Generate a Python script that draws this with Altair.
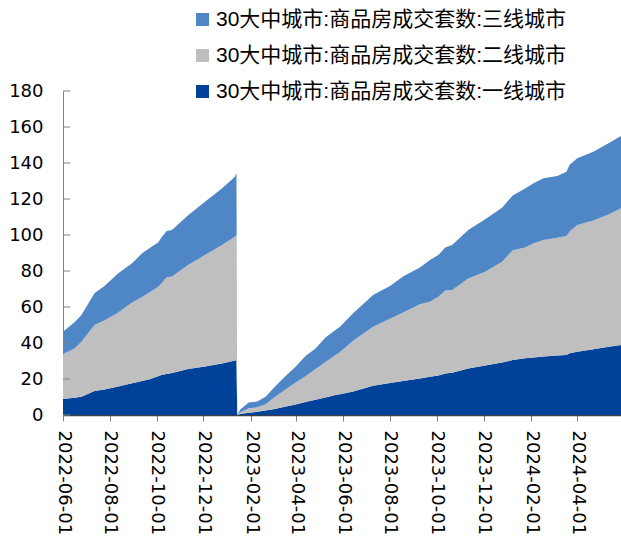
import altair as alt
import pandas as pd

# Cumulative transaction counts (10k units) for the 30 large/medium cities,
# split by city tier. Two cumulative runs: mid-2022 and 2023 onward.
DATES = [
    "2022-06-01", "2022-06-16", "2022-06-25", "2022-07-12", "2022-07-25",
    "2022-08-12", "2022-08-30", "2022-09-12", "2022-09-23", "2022-10-03",
    "2022-10-08", "2022-10-14", "2022-10-21", "2022-11-11", "2022-12-03",
    "2022-12-25", "2023-01-11", "2023-01-13",
    "2023-01-14", "2023-01-18", "2023-01-29", "2023-02-09", "2023-02-20",
    "2023-03-04", "2023-03-17", "2023-03-31", "2023-04-13", "2023-04-26",
    "2023-05-09", "2023-05-22", "2023-05-28", "2023-06-14", "2023-07-10",
    "2023-08-01", "2023-08-18", "2023-09-09", "2023-09-22", "2023-10-03",
    "2023-10-12", "2023-10-21", "2023-11-11", "2023-12-03", "2023-12-25",
    "2024-01-08", "2024-01-24", "2024-02-04", "2024-02-17", "2024-03-06",
    "2024-03-18", "2024-03-22", "2024-04-01", "2024-04-22", "2024-05-10",
    "2024-05-28",
]

TIER1 = [
    8.9, 9.6, 10.2, 13.3, 14.2, 15.8, 17.6, 18.9, 20.0, 21.5,
    22.3, 22.8, 23.3, 25.5, 27.0, 28.6, 30.3, 30.6,
    0.0, 0.5, 1.3, 1.8, 2.5, 3.4, 4.6, 5.9, 7.2, 8.5,
    9.7, 11.1, 11.5, 13.0, 16.3, 17.8, 18.9, 20.3, 21.3, 22.0,
    23.1, 23.5, 25.9, 27.5, 29.2, 30.5, 31.5, 32.0, 32.5, 33.0,
    33.3, 34.3, 35.2, 36.5, 37.8, 38.9,
]

TIER2 = [
    25.0, 27.4, 30.5, 36.7, 38.3, 41.2, 44.9, 46.6, 48.5, 49.8,
    51.2, 53.7, 53.7, 57.8, 61.9, 65.8, 68.7, 69.4,
    0.0, 1.0, 2.4, 2.5, 3.5, 6.6, 9.3, 12.1, 14.3, 17.0,
    19.8, 22.2, 23.5, 28.3, 32.7, 35.7, 38.1, 41.2, 41.6, 43.7,
    46.0, 46.0, 50.0, 52.1, 56.0, 61.0, 61.6, 63.4, 64.7, 65.5,
    66.2, 67.7, 70.4, 71.5, 73.3, 75.9,
]

TIER3 = [
    12.4, 14.5, 14.8, 17.6, 19.1, 21.7, 21.8, 24.3, 24.5, 24.6,
    25.5, 25.7, 25.8, 27.7, 29.6, 31.5, 33.4, 34.5,
    0.0, 1.5, 3.2, 3.2, 4.2, 5.7, 7.4, 8.8, 11.3, 11.5,
    13.6, 13.9, 14.0, 15.2, 17.7, 18.2, 19.9, 20.5, 23.2, 23.2,
    24.0, 24.9, 26.9, 29.1, 30.0, 30.5, 32.8, 33.3, 34.3, 34.3,
    35.7, 37.0, 37.0, 38.3, 39.5, 40.2,
]

SERIES = [
    "30大中城市:商品房成交套数:三线城市",
    "30大中城市:商品房成交套数:二线城市",
    "30大中城市:商品房成交套数:一线城市",
]
COLORS = ["#4F86C6", "#BFBFBF", "#00419A"]

X_TICKS = [
    "2022-06-01", "2022-08-01", "2022-10-01", "2022-12-01",
    "2023-02-01", "2023-04-01", "2023-06-01", "2023-08-01",
    "2023-10-01", "2023-12-01", "2024-02-01", "2024-04-01",
]
Y_TICKS = [0, 20, 40, 60, 80, 100, 120, 140, 160, 180]
X_START, X_END = "2022-06-01", "2024-05-28"

NUM_FONT = "DejaVu Sans"
LABEL_FONT = "Liberation Sans, Noto Sans CJK SC"


def utc_day(s):
    y, m, d = (int(p) for p in s.split("-"))
    return alt.DateTime(year=y, month=m, date=d, utc=True)


rows = []
for tier_rank, (name, values) in enumerate(
    [(SERIES[2], TIER1), (SERIES[1], TIER2), (SERIES[0], TIER3)]
):
    for d, v in zip(DATES, values):
        rows.append({"date": d, "series": name, "value": v, "rank": tier_rank})
df = pd.DataFrame(rows)

x_scale = alt.Scale(type="utc", domain=[utc_day(X_START), utc_day(X_END)], nice=False)
y_scale = alt.Scale(domain=[0, 180], nice=False, zero=True)

y_axis = alt.Axis(
    values=Y_TICKS,
    labelFont=NUM_FONT,
    labelFontSize=18,
    labelColor="#000000",
    labelPadding=20,
    labelOverlap=False,
    labelFlush=False,
    tickSize=0,
    domainColor="#808080",
    grid=False,
)

areas = (
    alt.Chart(df)
    .mark_area(opacity=1, interpolate="linear")
    .encode(
        x=alt.X(
            "date:T",
            scale=x_scale,
            title=None,
            axis=alt.Axis(
                values=[utc_day(t) for t in X_TICKS],
                labelExpr="utcFormat(datum.value, '%Y-%m-%d')",
                labelAngle=90,
                labelAlign="left",
                labelBaseline="middle",
                labelFont=NUM_FONT,
                labelFontSize=18,
                labelColor="#000000",
                labelPadding=9,
                labelOverlap=False,
                labelFlush=False,
                tickSize=6,
                tickColor="#808080",
                domainColor="#404040",
                domainWidth=1.5,
                grid=False,
            ),
        ),
        y=alt.Y("value:Q", stack="zero", scale=y_scale, title=None, axis=y_axis),
        color=alt.Color(
            "series:N",
            scale=alt.Scale(domain=SERIES, range=COLORS),
            legend=alt.Legend(
                title=None,
                orient="none",
                legendX=129,
                legendY=-82,
                direction="vertical",
                symbolType="square",
                symbolSize=169,
                symbolStrokeWidth=0,
                symbolOpacity=1,
                labelFont=LABEL_FONT,
                labelFontSize=21,
                labelColor="#000000",
                labelLimit=600,
                labelOffset=3,
                rowPadding=14,
                padding=0,
            ),
        ),
        order=alt.Order("rank:Q", sort="ascending"),
    )
)

# Inward-pointing tick marks on the value axis
tick_df = pd.DataFrame({"v": Y_TICKS})
y_ticks = (
    alt.Chart(tick_df)
    .mark_rule(color="#808080", strokeWidth=1)
    .encode(
        y=alt.Y("v:Q", scale=y_scale, title=None, axis=y_axis),
        x=alt.value(0),
        x2=alt.value(7),
    )
)

chart = (
    alt.layer(areas, y_ticks)
    .properties(
        width=558,
        height=324,
        autosize=alt.AutoSizeParams(type="none"),
        padding={"left": 63, "top": 91, "right": 0, "bottom": 122},
    )
    .configure_view(stroke=None)
)

chart.save("out.html", embed_options={"renderer": "svg", "actions": False})
